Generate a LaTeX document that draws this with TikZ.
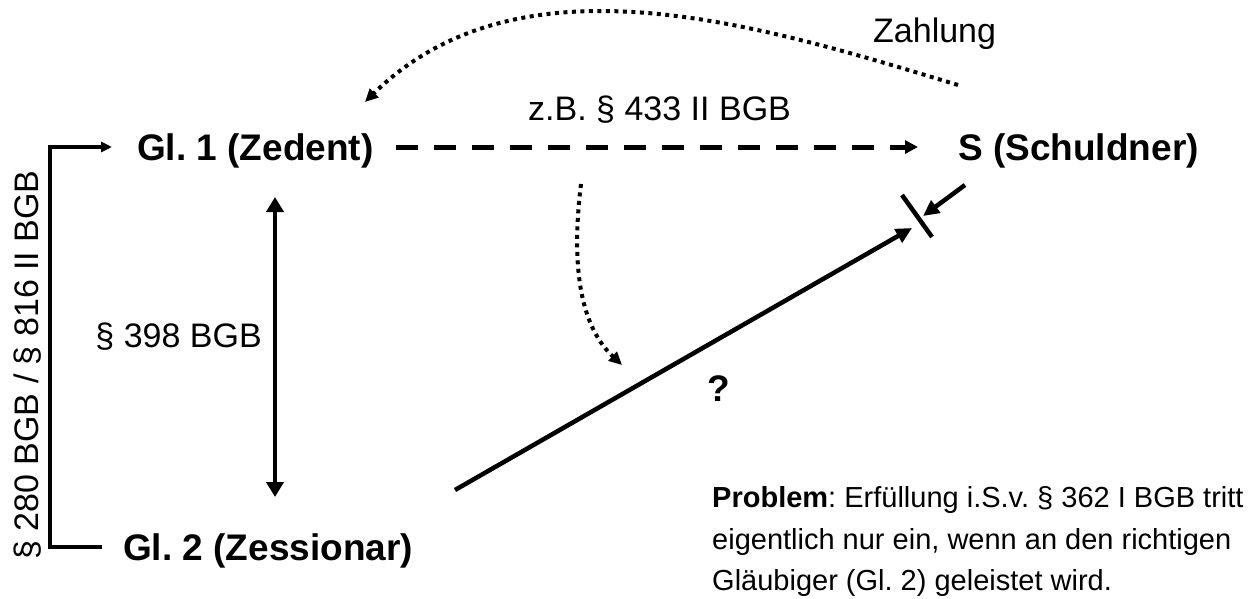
\documentclass[tikz,border=0pt]{standalone}
\usepackage{fontspec}
\setmainfont{Liberation Sans}
\usetikzlibrary{arrows.meta}
\frenchspacing
\begin{document}
\begin{tikzpicture}[x=1pt,y=-1pt,
  lbl/.style={inner sep=0pt, font=\fontsize{34}{40}\selectfont, text height=24.3pt, text depth=0pt},
  blbl/.style={inner sep=0pt, font=\fontsize{37}{44}\selectfont\bfseries, text height=26.5pt, text depth=0pt},
  plbl/.style={inner sep=0pt, anchor=west, font=\fontsize{29}{35}\selectfont, text height=20.8pt, text depth=0pt},
  brk/.style={line width=3.5pt},
  solidarrow/.style={line width=4.5pt},
  dashedarrow/.style={line width=5pt, dash pattern=on 22pt off 16pt, -{Triangle[length=13pt,width=13pt]}},
  dottedarrow/.style={line width=4pt, dash pattern=on 4pt off 4.5pt, -{Triangle[length=13pt,width=12pt]}}
]
\useasboundingbox (0,0) rectangle (1260,599);

% main nodes
\node[blbl, anchor=west] (g1) at (137,147) {Gl. 1 (Zedent)};
\node[blbl, anchor=west] (s)  at (958,147) {S (Schuldner)};
\node[blbl, anchor=west] (g2) at (123,547) {Gl. 2 (Zessionar)};

% labels
\node[lbl, anchor=west] (zb) at (528,108) {z.B. \S\ 433 II BGB};
\node[lbl, anchor=west] (zahlung) at (873,30) {Zahlung};
\node[lbl, anchor=east] (p398) at (262,335) {\S\ 398 BGB};
\node[lbl, rotate=90] (v280) at (26,365) {\S\ 280 BGB / \S\ 816 II BGB};
\node[blbl] (q) at (719,388) {?};

\node[plbl] (p1) at (712,497) {\textbf{Problem}: Erfüllung i.S.v. \S\ 362 I BGB tritt};
\node[plbl] (p2) at (712,539) {eigentlich nur ein, wenn an den richtigen};
\node[plbl] (p3) at (712,580) {Gläubiger (Gl. 2) geleistet wird.};

% coordinates
\coordinate (zs) at (958,85);
\coordinate (ze) at (365,102);
\coordinate (ms) at (581,184);
\coordinate (me) at (622,365);
\coordinate (a1) at (275,197);
\coordinate (a2) at (275,497);
\coordinate (ds) at (455,490);
\coordinate (dt) at (912,228);
\coordinate (b1) at (902,195);
\coordinate (b2) at (932,237);
\coordinate (ss) at (965,185);
\coordinate (st) at (923,216);

% bracket
\draw[brk, -{Triangle[length=11pt,width=10pt]}] ([xshift=-21pt]g2.west) -| ([xshift=-87pt]g1.west) -- ([xshift=-25pt]g1.west);

% dashed claim arrow
\draw[dashedarrow] ([xshift=22pt]g1.east) -- ([xshift=-40pt]s.west);

% payment curve
\draw[dottedarrow] (zs) .. controls (760,25) and (520,-50) .. (ze);

% middle dotted curve
\draw[dottedarrow] (ms) .. controls (568,290) and (590,335) .. (me);

% vertical double arrow
\draw[solidarrow, {Triangle[length=15pt,width=17pt]}-{Triangle[length=15pt,width=17pt]}] (a1) -- (a2);

% diagonal arrow
\draw[solidarrow, -{Triangle[length=16pt,width=15pt]}] (ds) -- (dt);
\draw[solidarrow] (b1) -- (b2);
\draw[solidarrow, -{Triangle[length=16pt,width=15pt]}] (ss) -- (st);
\end{tikzpicture}
\end{document}
